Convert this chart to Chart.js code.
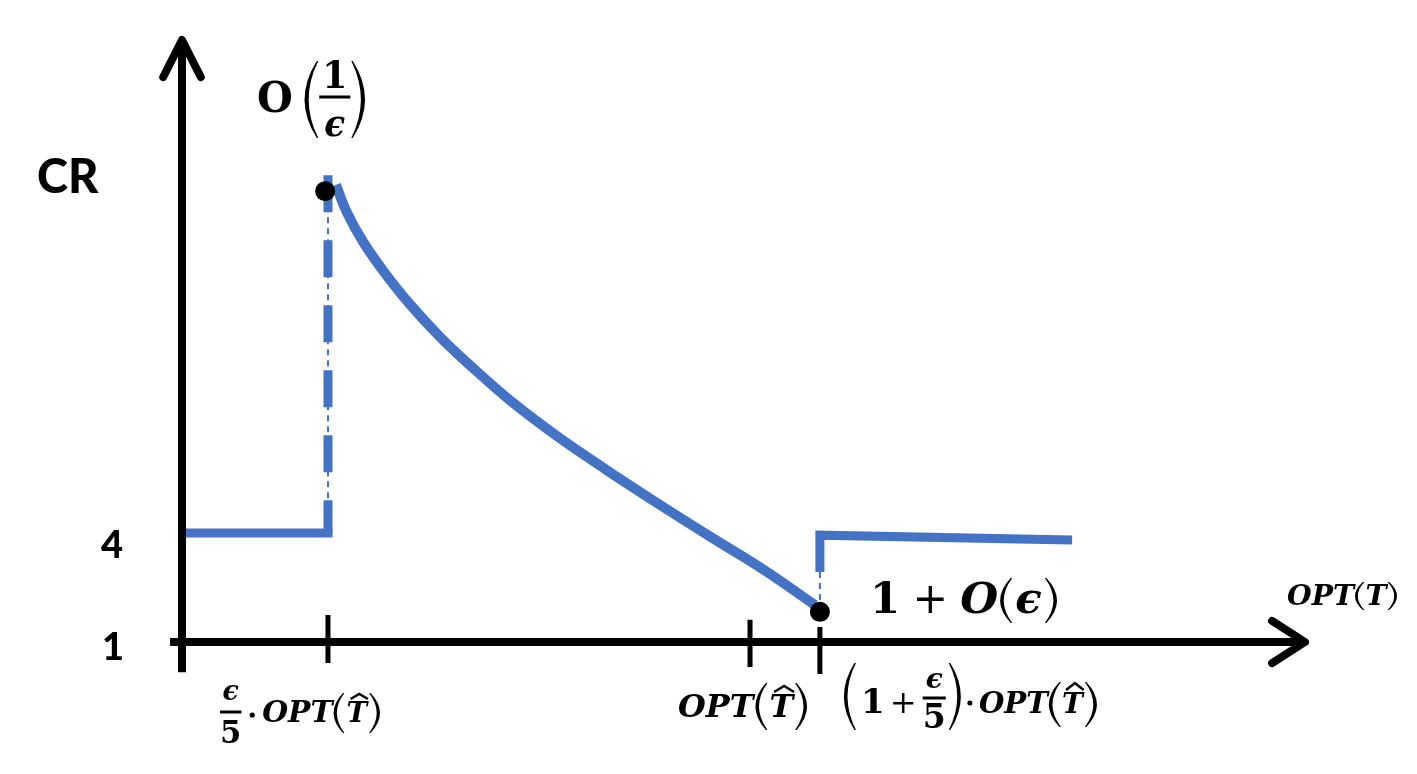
<!DOCTYPE html>
<html>
<head>
<meta charset="utf-8">
<script src="https://cdn.jsdelivr.net/npm/chart.js@4.4.1/dist/chart.umd.min.js"></script>
<style>
  html, body { margin: 0; padding: 0; background: #fff; }
  #wrap { width: 1417px; height: 774px; position: relative; }
</style>
</head>
<body>
<div id="wrap"><canvas id="cr-chart"></canvas></div>
<script>
// x 以 OPT(T̂) 为单位, y 为竞争比 CR
const xTicks = [0.257, 1.0, 1.123];      // ε/5·OPT, OPT, (1+ε/5)·OPT
const tickTop = [1.74, 1.61, 1.41];
const tickBot = [0.42, 0.31, 0.12];
const xAxisX = [-0.021, 1.977];
const yAxisY = [0.17, 17.57];
const yArrowX = [-0.033, 0, 0.033];
const yArrowY = [16.55, 17.57, 16.55];
const xArrowX = [1.919, 1.977, 1.919];
const xArrowY = [1.58, 1, 0.42];

// 曲线各段
const lowX = [0, 0.265];
const lowY = [4, 4];
const peakDashY = [13.85, 4];
const peakThinY = [13.6, 4];
const curveX = [0.271, 0.290, 0.319, 0.356, 0.401, 0.456, 0.516, 0.583, 0.660, 0.745, 0.836, 0.931, 1.025, 1.114];
const curveY = [13.58, 12.83, 12.01, 11.18, 10.30, 9.37, 8.49, 7.58, 6.67, 5.76, 4.83, 3.89, 2.98, 2.02];
const highX = [1.123, 1.123, 1.567];
const highY = [2.93, 3.94, 3.81];
const dropThinY = [2.93, 2.02];
const dotsX = [0.252, 1.123];
const dotsY = [13.41, 1.83];

const BLUE = '#4472C4';

function pts(xs, ys) {
    return xs.map((x, i) => ({ x: x, y: ys[i] }));
}

function line(data, color, width, extra) {
    return Object.assign({
        data: data,
        showLine: true,
        borderColor: color,
        borderWidth: width,
        pointRadius: 0,
        fill: false,
        tension: 0,
        clip: false,
        order: 2
    }, extra || {});
}

// 公式文字绘制
function font(f, s) {
    return (f === 'bi' ? 'italic bold ' : f === 'b' ? 'bold ' : '') + s + 'px "DejaVu Serif"';
}

function partWidth(ctx, p) {
    if (p.gap) return p.gap;
    if (p.paren || p.dot) return p.w;
    if (p.num) {
        ctx.font = font(p.num.f, p.num.s);
        const a = ctx.measureText(p.num.t).width;
        ctx.font = font(p.den.f, p.den.s);
        const b = ctx.measureText(p.den.t).width;
        return Math.max(a, b) + 2 * (p.pad || 2);
    }
    ctx.font = font(p.f, p.s);
    return ctx.measureText(p.t).width;
}

function drawParen(ctx, side, x, w, top, bot) {
    const mid = (top + bot) / 2;
    const th = Math.max(2.5, w * 0.3);
    let outerEnd, innerEnd, outerX, innerX;
    if (side === '(') {
        outerEnd = x + w - 1.5; innerEnd = x + w; outerX = x; innerX = x + th;
    } else {
        outerEnd = x + 1.5; innerEnd = x; outerX = x + w; innerX = x + w - th;
    }
    ctx.beginPath();
    ctx.moveTo(outerEnd, top);
    ctx.quadraticCurveTo(2 * outerX - outerEnd, mid, outerEnd, bot);
    ctx.lineTo(innerEnd, bot);
    ctx.quadraticCurveTo(2 * innerX - innerEnd, mid, innerEnd, top);
    ctx.closePath();
    ctx.fill();
}

function drawMath(ctx, parts, x0, base, targetW) {
    let total = 0;
    parts.forEach(p => { total += partWidth(ctx, p); });
    const k = targetW ? targetW / total : 1;
    ctx.save();
    ctx.translate(x0, base);
    ctx.scale(k, 1);
    ctx.fillStyle = '#000';
    ctx.strokeStyle = '#000';
    ctx.textBaseline = 'alphabetic';
    let cx = 0;
    parts.forEach(p => {
        const w = partWidth(ctx, p);
        if (p.gap) {
            // 空白
        } else if (p.paren) {
            drawParen(ctx, p.paren, cx, p.w, p.top, p.bot);
        } else if (p.dot) {
            ctx.beginPath();
            ctx.arc(cx + w / 2, p.y, p.r, 0, Math.PI * 2);
            ctx.fill();
        } else if (p.num) {
            ctx.textAlign = 'center';
            ctx.font = font(p.num.f, p.num.s);
            ctx.fillText(p.num.t, cx + w / 2, p.nb);
            ctx.font = font(p.den.f, p.den.s);
            ctx.fillText(p.den.t, cx + w / 2, p.db);
            ctx.fillRect(cx + 1, p.by - 1.5, w - 2, 3);
            ctx.textAlign = 'left';
        } else {
            ctx.textAlign = 'left';
            ctx.font = font(p.f, p.s);
            ctx.fillText(p.t, cx, 0);
            if (p.hat) {
                ctx.lineWidth = 2.5;
                ctx.lineJoin = 'miter';
                ctx.beginPath();
                ctx.moveTo(cx + 0.2 * w, p.hat.y + p.hat.h);
                ctx.lineTo(cx + 0.62 * w, p.hat.y);
                ctx.lineTo(cx + 1.04 * w, p.hat.y + p.hat.h);
                ctx.stroke();
            }
        }
        cx += w;
    });
    ctx.restore();
}

const labelsPlugin = {
    id: 'mathLabels',
    afterDraw(chart) {
        const ctx = chart.ctx;
        ctx.save();
        ctx.fillStyle = '#000';
        ctx.textBaseline = 'alphabetic';
        ctx.textAlign = 'left';
        ctx.font = '900 47px Lato';
        ctx.fillText('CR', 37, 193);
        ctx.textAlign = 'center';
        ctx.font = '900 38px Lato';
        ctx.fillText('4', 112, 558);
        ctx.fillText('1', 113, 660);
        ctx.restore();

        // O(1/ϵ)
        drawMath(ctx, [
            { t: 'O', f: 'b', s: 42 },
            { gap: 12 },
            { paren: '(', w: 14, top: -51, bot: 26 },
            { num: { t: '1', f: 'b', s: 37 }, den: { t: 'ϵ', f: 'bi', s: 35 }, nb: -24, db: 24, by: -15, pad: 4 },
            { paren: ')', w: 14, top: -51, bot: 26 }
        ], 257, 112, 108);

        // 1 + O(ϵ)
        drawMath(ctx, [
            { t: '1', f: 'b', s: 43 }, { gap: 12 },
            { t: '+', f: 'r', s: 42 }, { gap: 12 },
            { t: 'O', f: 'bi', s: 43 }, { gap: 2 },
            { paren: '(', w: 12, top: -35, bot: 10 }, { gap: 3 },
            { t: 'ϵ', f: 'bi', s: 43 }, { gap: 3 },
            { paren: ')', w: 12, top: -35, bot: 10 }
        ], 870, 613, 187);

        // OPT(T)
        drawMath(ctx, [
            { t: 'OPT', f: 'bi', s: 27 }, { gap: 1 },
            { paren: '(', w: 9, top: -23, bot: 5 }, { gap: 1 },
            { t: 'T', f: 'bi', s: 27 }, { gap: 1 },
            { paren: ')', w: 9, top: -23, bot: 5 }
        ], 1287, 605, 110);

        const xs = chart.scales.x;
        const p0 = xs.getPixelForValue(xTicks[0]);
        const p1 = xs.getPixelForValue(xTicks[1]);
        const p2 = xs.getPixelForValue(xTicks[2]);

        // ϵ/5 · OPT(T̂)
        drawMath(ctx, [
            { num: { t: 'ϵ', f: 'bi', s: 27 }, den: { t: '5', f: 'b', s: 31 }, nb: -22, db: 21, by: -10, pad: 1 },
            { dot: true, w: 20, y: -7, r: 2.6 },
            { t: 'OPT', f: 'bi', s: 30 }, { gap: 1 },
            { paren: '(', w: 11, top: -29, bot: 11 }, { gap: 2 },
            { t: 'T', f: 'bi', s: 28, hat: { y: -28, h: 5 } }, { gap: 2 },
            { paren: ')', w: 11, top: -29, bot: 11 }
        ], p0 - 109, 722, 161);

        // OPT(T̂)
        drawMath(ctx, [
            { t: 'OPT', f: 'bi', s: 32 }, { gap: 2 },
            { paren: '(', w: 12, top: -34, bot: 13 }, { gap: 2 },
            { t: 'T', f: 'bi', s: 32, hat: { y: -31, h: 6 } }, { gap: 2 },
            { paren: ')', w: 12, top: -34, bot: 13 }
        ], p1 - 72, 717, 129);

        // (1 + ϵ/5) · OPT(T̂)
        drawMath(ctx, [
            { paren: '(', w: 12, top: -50, bot: 17 }, { gap: 5 },
            { t: '1', f: 'b', s: 34 }, { gap: 5 },
            { t: '+', f: 'r', s: 32 }, { gap: 5 },
            { num: { t: 'ϵ', f: 'bi', s: 28 }, den: { t: '5', f: 'b', s: 33 }, nb: -25, db: 15, by: -15, pad: 1 },
            { gap: 2 },
            { paren: ')', w: 12, top: -50, bot: 17 },
            { dot: true, w: 18, y: -10, r: 2.5 },
            { t: 'OPT', f: 'bi', s: 29 }, { gap: 1 },
            { paren: '(', w: 12, top: -31, bot: 14 }, { gap: 1 },
            { t: 'T', f: 'bi', s: 28, hat: { y: -30, h: 7 } }, { gap: 2 },
            { paren: ')', w: 12, top: -31, bot: 14 }
        ], p2 + 24, 713, 253);
    }
};

const canvas = document.getElementById('cr-chart');

const axisStyle = { order: 0, borderCapStyle: 'butt' };
const arrowStyle = { order: 0, borderCapStyle: 'round', borderJoinStyle: 'round' };

const datasets = [
    // 坐标轴
    line(pts(xAxisX, [1, 1]), '#000', 8, axisStyle),
    line(pts([0, 0], yAxisY), '#000', 8, axisStyle),
    line(pts(yArrowX, yArrowY), '#000', 8, arrowStyle),
    line(pts(xArrowX, xArrowY), '#000', 8, arrowStyle)
];

// 刻度
xTicks.forEach((t, i) => {
    datasets.push(line(pts([t, t], [tickTop[i], tickBot[i]]), '#000', 5, axisStyle));
});

// 蓝色曲线
datasets.push(line(pts(lowX, lowY), BLUE, 9, { borderJoinStyle: 'miter' }));
datasets.push(line(pts([xTicks[0], xTicks[0]], peakThinY), BLUE, 2, { borderDash: [6, 5] }));
datasets.push(line(pts([xTicks[0], xTicks[0]], peakDashY), BLUE, 9, { borderDash: [37, 28], borderCapStyle: 'butt' }));
datasets.push(line(pts(curveX, curveY), BLUE, 10, { tension: 0.4 }));
datasets.push(line(pts([highX[0], highX[0]], dropThinY), BLUE, 2, { borderDash: [6, 5] }));
datasets.push(line(pts(highX, highY), BLUE, 9, { borderJoinStyle: 'miter' }));

// 黑点
datasets.push({
    data: pts(dotsX, dotsY),
    showLine: false,
    pointRadius: 10,
    pointBackgroundColor: '#000',
    pointBorderWidth: 0,
    clip: false,
    order: 0
});

window.crChart = new Chart(canvas, {
    type: 'scatter',
    data: { datasets: datasets },
    options: {
        responsive: true,
        maintainAspectRatio: false,
        animation: false,
        layout: { padding: { left: 182, right: 112, top: 40, bottom: 132 } },
        scales: {
            x: { type: 'linear', display: false, min: 0, max: 1.977 },
            y: { type: 'linear', display: false, min: 1, max: 17.57 }
        },
        plugins: {
            legend: { display: false },
            tooltip: { enabled: false }
        },
        events: []
    },
    plugins: [labelsPlugin]
});
</script>
</body>
</html>
